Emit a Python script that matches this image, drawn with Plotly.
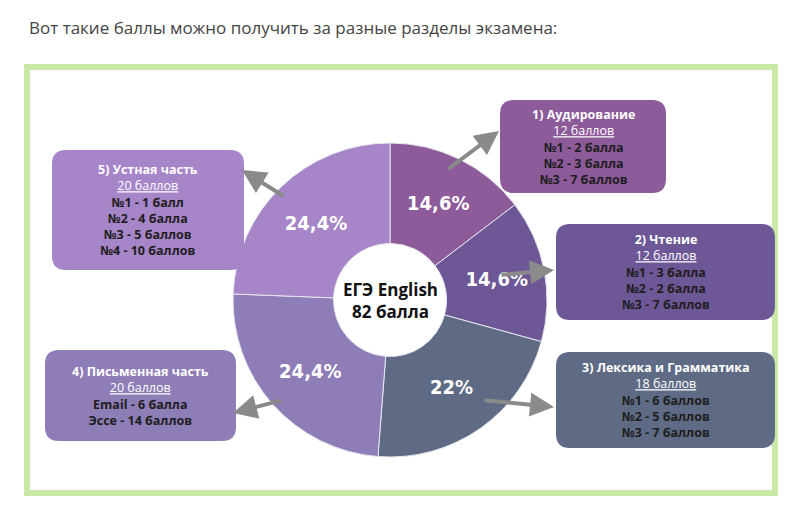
import plotly.graph_objects as go

sections = ["Аудирование", "Чтение", "Лексика и Грамматика", "Письменная часть", "Устная часть"]
points = [12, 12, 18, 20, 20]
pct_labels = ["<b>14,6%</b>", "<b>14,6%</b>", "<b>22%</b>", "<b>24,4%</b>", "<b>24,4%</b>"]
colors = ["#8d5a9a", "#6d5797", "#5f6b84", "#8f7db7", "#a685c8"]

box_titles = ["1) Аудирование", "2) Чтение", "3) Лексика и Грамматика", "4) Письменная часть", "5) Устная часть"]
box_totals = ["12 баллов", "12 баллов", "18 баллов", "20 баллов", "20 баллов"]
box_items = [
    ["№1 - 2 балла", "№2 - 3 балла", "№3 - 7 баллов"],
    ["№1 - 3 балла", "№2 - 2 балла", "№3 - 7 баллов"],
    ["№1 - 6 баллов", "№2 - 5 баллов", "№3 - 7 баллов"],
    ["Email - 6 балла", "Эссе - 14 баллов"],
    ["№1 - 1 балл", "№2 - 4 балла", "№3 - 5 баллов", "№4 - 10 баллов"],
]

W, H = 802, 511
OFF = 8  # page body margin
boxes = [(500, 100, 666, 193), (556, 224, 775, 320), (556, 352, 775, 448),
         (45, 350, 236, 441), (52, 150, 244, 270)]
arrows = [((447, 170), (499, 131)), ((500, 275), (554, 270)), ((483, 400), (554, 407)),
          ((283, 400), (233, 413)), ((285, 197), (242, 170))]

cx, cy, R = 390, 300, 157

fig = go.Figure()
fig.add_trace(go.Pie(
    values=points, labels=sections, text=pct_labels, textinfo="text",
    textposition="inside", insidetextorientation="horizontal",
    marker=dict(colors=colors, line=dict(color="#e6e6ee", width=1)),
    hole=0.36, sort=False, direction="clockwise", rotation=0,
    textfont=dict(family="DejaVu Sans Condensed", size=20, color="white"),
    domain=dict(x=[(cx - R - OFF) / W, (cx + R - OFF) / W],
                y=[1 - (cy + R - OFF) / H, 1 - (cy - R - OFF) / H]),
    showlegend=False, hoverinfo="label+value",
))

def rrect(x0, y0, x1, y1, r=14):
    return (f"M{x0+r},{y0} L{x1-r},{y0} Q{x1},{y0} {x1},{y0+r} L{x1},{y1-r} Q{x1},{y1} {x1-r},{y1} "
            f"L{x0+r},{y1} Q{x0},{y1} {x0},{y1-r} L{x0},{y0+r} Q{x0},{y0} {x0+r},{y0} Z")

shapes = [dict(type="rect", xref="x", yref="y", x0=27, y0=67, x1=775, y1=493,
               line=dict(color="#c8eaa6", width=6), fillcolor="rgba(0,0,0,0)")]
annotations = [dict(x=27, y=27, xref="x", yref="y", xanchor="left", yanchor="middle", showarrow=False,
                    text="Вот такие баллы можно получить за разные разделы экзамена:",
                    font=dict(family="Open Sans", size=17, color="#444"))]
for i, (x0, y0, x1, y1) in enumerate(boxes):
    shapes.append(dict(type="path", xref="x", yref="y", path=rrect(x0, y0, x1, y1),
                       fillcolor=colors[i], line=dict(width=0)))
    lines = [f"<b>{box_titles[i]}</b>", f"<u>{box_totals[i]}</u>"] + [f"<b><span style='color:#1e1e1e'>{t}</span></b>" for t in box_items[i]]
    annotations.append(dict(x=(x0 + x1) / 2, y=(y0 + y1) / 2, xref="x", yref="y", showarrow=False,
                            text="<br>".join(lines), align="center",
                            font=dict(family="Open Sans", size=12.5, color="white")))
for (sx, sy), (ex, ey) in arrows:
    annotations.append(dict(x=ex, y=ey, ax=sx, ay=sy, xref="x", yref="y", axref="x", ayref="y",
                            showarrow=True, arrowhead=2, arrowsize=1.2, arrowwidth=4,
                            arrowcolor="#8a8a8a", text=""))
annotations.append(dict(x=cx, y=cy, xref="x", yref="y", showarrow=False,
                        text="<b>ЕГЭ English<br>82 балла</b>",
                        font=dict(family="Open Sans", size=17, color="#111")))

fig.update_layout(
    width=W, height=H, margin=dict(l=0, r=0, t=0, b=0),
    paper_bgcolor="white", plot_bgcolor="white",
    xaxis=dict(range=[OFF, W + OFF], visible=False, fixedrange=True),
    yaxis=dict(range=[H + OFF, OFF], visible=False, fixedrange=True),
    shapes=shapes, annotations=annotations,
)
fig.write_html("out.html")
